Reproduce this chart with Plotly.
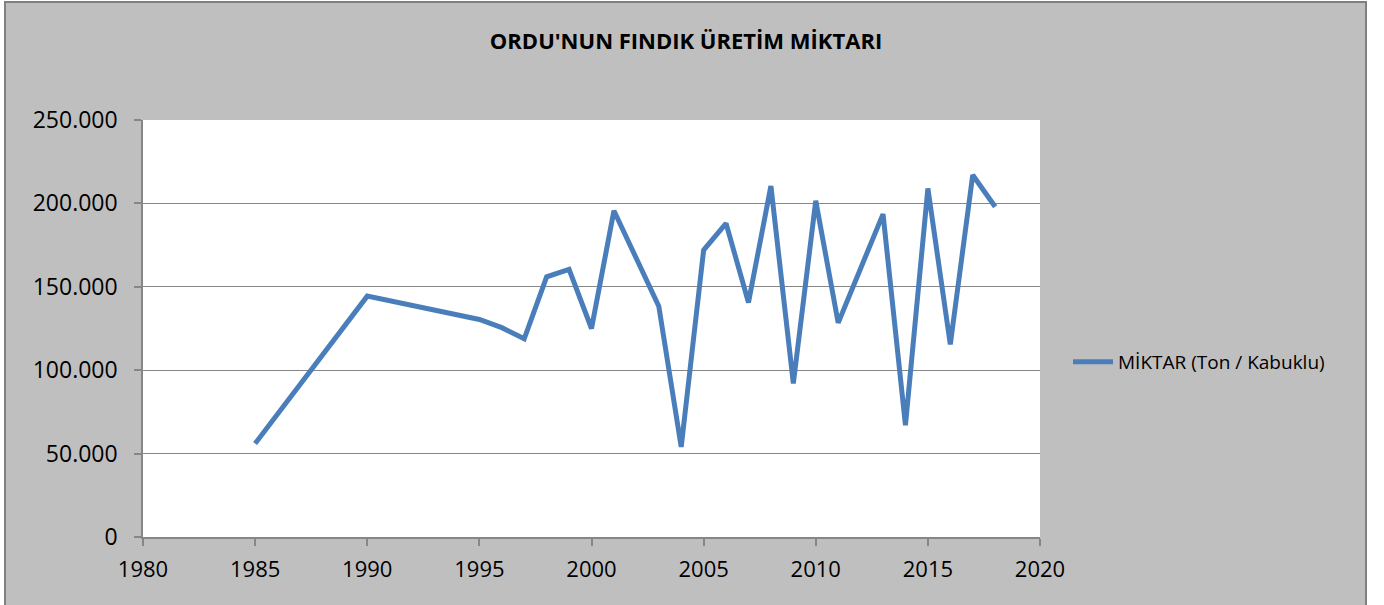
import plotly.graph_objects as go

years = [1985, 1990, 1995, 1996, 1997, 1998, 1999, 2000, 2001, 2002, 2003, 2004,
         2005, 2006, 2007, 2008, 2009, 2010, 2011, 2012, 2013, 2014, 2015, 2016,
         2017, 2018]
miktar = [56000, 144400, 130400, 125500, 118800, 156000, 160400, 125000, 195600,
          167000, 138400, 54000, 172000, 188000, 140600, 210400, 92000, 201600,
          128400, 161000, 193600, 67000, 209000, 115400, 217000, 198000]

series_name = "MİKTAR (Ton / Kabuklu)"
title_text = "ORDU'NUN FINDIK ÜRETİM MİKTARI"
x_ticks = [1980, 1985, 1990, 1995, 2000, 2005, 2010, 2015, 2020]
y_ticks = [0, 50000, 100000, 150000, 200000, 250000]

W, H = 1384, 605
ml, mr, mt, mb = 143, W - 1040, 120, H - 537
pw, ph = W - ml - mr, H - mt - mb

def px_x(p):
    return (p - ml) / pw

def px_y(p):
    return (H - mb - p) / ph

font_family = "Open Sans, Lato, DejaVu Sans, sans-serif"
grid_col = "#868686"

fig = go.Figure()
fig.add_trace(go.Scatter(
    x=years, y=miktar, mode="lines", name=series_name,
    line=dict(color="#4a7ebb", width=5),
))

fig.update_layout(
    width=W, height=H,
    margin=dict(l=ml, r=mr, t=mt, b=mb),
    paper_bgcolor="white",
    plot_bgcolor="white",
    separators=",.",
    font=dict(family=font_family, color="black"),
    title=dict(
        text="<b>" + title_text + "</b>",
        x=686 / W, xanchor="center", xref="container",
        y=1 - 41 / H, yanchor="middle", yref="container",
        font=dict(size=22, family=font_family, color="black"),
    ),
    showlegend=True,
    legend=dict(
        x=px_x(1068), xanchor="left",
        y=px_y(362), yanchor="middle",
        bgcolor="rgba(0,0,0,0)",
        font=dict(size=19, family=font_family, color="black"),
        itemwidth=40,
    ),
    shapes=[
        dict(type="rect", xref="paper", yref="paper", layer="below",
             x0=px_x(5), x1=px_x(1366), y0=px_y(H + 10), y1=px_y(2),
             fillcolor="#bfbfbf", line=dict(color="#808080", width=2)),
        dict(type="rect", xref="paper", yref="paper", layer="below",
             x0=0, x1=1, y0=0, y1=1,
             fillcolor="white", line=dict(width=0)),
    ],
)

fig.update_xaxes(
    range=[1980, 2020], tickvals=x_ticks, ticktext=[str(v) for v in x_ticks],
    showgrid=False, zeroline=False,
    showline=True, linecolor=grid_col, linewidth=1.5,
    ticks="outside", ticklen=7, tickcolor=grid_col, tickwidth=1.5,
    ticklabelstandoff=5,
    tickfont=dict(size=22, family=font_family, color="black"),
)
fig.update_yaxes(
    range=[0, 250000], tickvals=y_ticks, tickformat=",d",
    showgrid=True, gridcolor=grid_col, gridwidth=1.2, zeroline=False,
    showline=True, linecolor=grid_col, linewidth=1.5,
    ticks="outside", ticklen=7, tickcolor=grid_col, tickwidth=1.5,
    ticklabelstandoff=12,
    tickfont=dict(size=23, family=font_family, color="black"),
)

fig.write_html("out.html",
               config={"displayModeBar": False},
               post_script="document.body.style.margin='0';document.body.style.overflow='hidden';")
